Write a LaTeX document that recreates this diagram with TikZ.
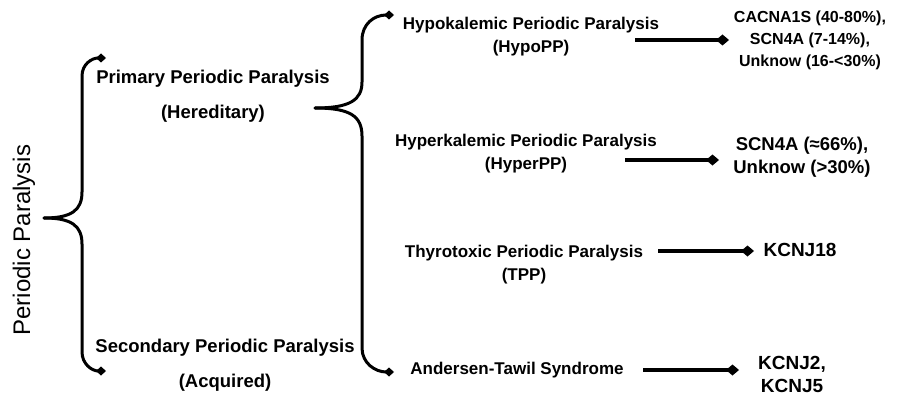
\documentclass[tikz,border=0pt]{standalone}
\usepackage{fontspec}
\setmainfont{Liberation Sans}
\usetikzlibrary{arrows.meta}
\begin{document}
\begin{tikzpicture}[x=1pt,y=-1pt,
  txt/.style={inner sep=0pt, align=center, font=\bfseries\fontsize{17}{23}\selectfont},
  big/.style={inner sep=0pt, align=center, font=\bfseries\fontsize{18.5}{35}\selectfont},
  brace/.style={line width=3pt, line cap=round},
  gene/.style={line width=4pt, -{Diamond[length=13pt,width=11pt]}},
  tip/.style={-{Diamond[length=10pt,width=9pt]}}]
\useasboundingbox (0,0) rectangle (905,396);
% nodes
\node[inner sep=0pt, rotate=90, font=\fontsize{24}{28}\selectfont] (pp) at (24,240) {Periodic Paralysis};
\node[big] (prim) at (213,96) {Primary Periodic Paralysis\\(Hereditary)};
\node[big] (sec) at (225,365) {Secondary Periodic Paralysis\\(Acquired)};
\node[txt] (hypo) at (531,37) {Hypokalemic Periodic Paralysis\\(HypoPP)};
\node[txt] (hyper) at (526,154) {Hyperkalemic Periodic Paralysis\\(HyperPP)};
\node[txt] (tpp) at (524,265) {Thyrotoxic Periodic Paralysis\\(TPP)};
\node[txt] (ats) at (517,370) {Andersen-Tawil Syndrome};
\node[inner sep=0pt, align=center, font=\bfseries\fontsize{16}{22}\selectfont] (g1) at (810,40) {CACNA1S (40-80\%),\\SCN4A (7-14\%),\\Unknow (16-<30\%)};
\node[inner sep=0pt, align=center, font=\bfseries\fontsize{18.5}{23}\selectfont] (g2) at (802,157) {SCN4A (≈66\%),\\Unknow (>30\%)};
\node[inner sep=0pt, align=center, font=\bfseries\fontsize{19}{23}\selectfont] (g3) at (800,250) {KCNJ18};
\node[inner sep=0pt, align=center, font=\bfseries\fontsize{19}{23}\selectfont] (g4) at (792,374) {KCNJ2,\\KCNJ5};
% brace coordinates
\coordinate (t1) at (44,218);
\coordinate (p1) at (106,58);
\coordinate (s1) at (106,371);
\coordinate (t2) at (315,108);
\coordinate (h1) at (394,15);
\coordinate (a1) at (394,372);
% left brace
\draw[brace,tip] (t1) .. controls (72,218) and (82,210) .. (82,192) -- (82,76) .. controls (82,64) and (92,58) .. (p1);
\draw[brace,tip] (t1) .. controls (72,218) and (82,226) .. (82,244) -- (82,352) .. controls (82,364) and (92,371) .. (s1);
% right brace
\draw[brace,tip] (t2) .. controls (350,108) and (362,100) .. (362,82) -- (362,40) .. controls (362,24) and (374,15) .. (h1);
\draw[brace,tip] (t2) .. controls (350,108) and (362,116) .. (362,136) -- (362,348) .. controls (362,363) and (375,372) .. (a1);
% gene arrows
\coordinate (r1a) at (635,40); \coordinate (r1b) at (729,40);
\coordinate (r2a) at (625,160); \coordinate (r2b) at (719,160);
\coordinate (r3a) at (658,251); \coordinate (r3b) at (754,251);
\coordinate (r4a) at (643,370); \coordinate (r4b) at (739,370);
\draw[gene] (r1a) -- (r1b);
\draw[gene] (r2a) -- (r2b);
\draw[gene] (r3a) -- (r3b);
\draw[gene] (r4a) -- (r4b);
\end{tikzpicture}
\end{document}
